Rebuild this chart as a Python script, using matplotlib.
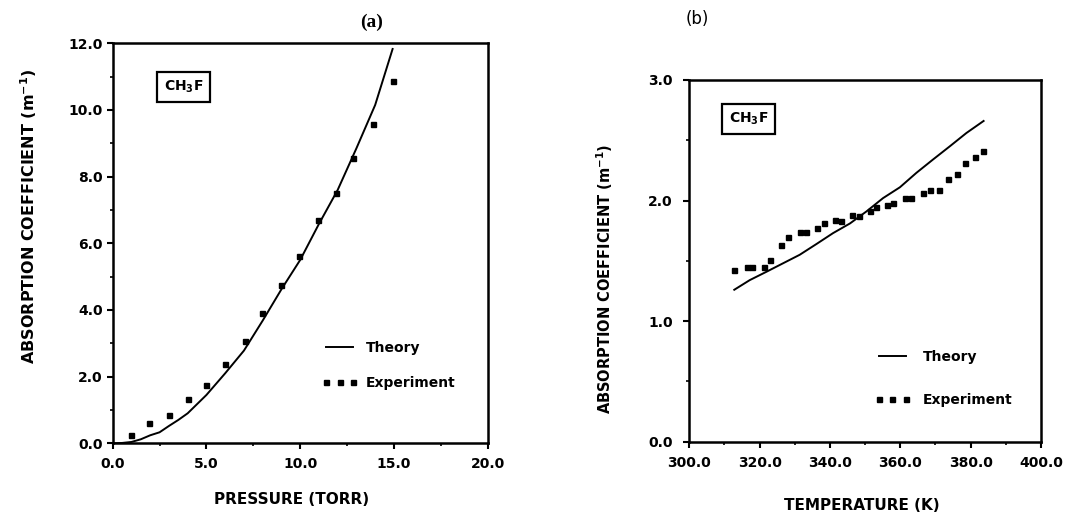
import numpy as np
import matplotlib
matplotlib.use("Agg")
import matplotlib.pyplot as plt
from matplotlib.ticker import MultipleLocator, FormatStrFormatter

# (a) absorption vs pressure
p_theory = [0.0, 0.5, 1.0, 1.5, 2.0, 2.5, 3.0, 3.5, 4.0, 5.0, 6.0, 7.0,
            8.0, 9.0, 10.0, 11.0, 12.0, 13.0, 14.0, 14.93]
a_theory = [0.0, 0.01, 0.04, 0.12, 0.24, 0.33, 0.52, 0.70, 0.90, 1.45, 2.10, 2.78,
            3.68, 4.62, 5.50, 6.58, 7.60, 8.85, 10.15, 11.83]
p_exp = [1.0, 1.95, 3.0, 4.0, 4.98, 6.0, 7.05, 7.96, 8.98, 9.92, 10.93, 11.91, 12.84, 13.87, 14.93]
a_exp = [0.24, 0.62, 0.85, 1.32, 1.76, 2.37, 3.08, 3.92, 4.76, 5.63, 6.69, 7.50, 8.56, 9.57, 10.87]

# (b) absorption vs temperature
t_theory = [312.8, 317.2, 322.0, 326.7, 331.4, 336.2, 340.9, 345.7, 350.4, 355.1,
            359.9, 364.6, 369.3, 374.1, 378.8, 383.7]
b_theory = [1.26, 1.34, 1.41, 1.48, 1.55, 1.64, 1.73, 1.81, 1.91, 2.02,
            2.11, 2.23, 2.34, 2.45, 2.56, 2.66]
t_exp = [312.8, 316.3, 317.9, 321.2, 322.9, 326.1, 328.0, 331.4, 333.2, 336.4,
         338.3, 341.4, 343.1, 346.4, 348.3, 351.3, 353.0, 356.1, 358.0, 361.3,
         363.0, 366.5, 368.4, 371.0, 373.6, 376.1, 378.5, 381.2, 383.5]
b_exp = [1.42, 1.45, 1.45, 1.45, 1.51, 1.63, 1.70, 1.74, 1.74, 1.77,
         1.81, 1.84, 1.83, 1.88, 1.87, 1.91, 1.95, 1.96, 1.98, 2.02,
         2.02, 2.06, 2.09, 2.09, 2.18, 2.22, 2.31, 2.36, 2.41]

FS = 10

def style_axes(ax, pad_x, pad_y):
    for s in ax.spines.values():
        s.set_linewidth(1.8)
    ax.tick_params(which="major", direction="out", length=4, width=1.5,
                   labelsize=FS, pad=pad_x, axis="x")
    ax.tick_params(which="major", direction="out", length=4, width=1.5,
                   labelsize=FS, pad=pad_y, axis="y")
    ax.tick_params(which="minor", direction="out", length=2.5, width=1.2)
    for lab in ax.get_xticklabels() + ax.get_yticklabels():
        lab.set_fontweight("bold")
    ax.xaxis.set_major_formatter(FormatStrFormatter("%.1f"))
    ax.yaxis.set_major_formatter(FormatStrFormatter("%.1f"))


fig = plt.figure(figsize=(10.65, 5.23), dpi=100)

# ---- panel (a)
ax1 = fig.add_axes([0.1058, 0.1524, 0.3521, 0.7648])
ax1.plot(p_theory, a_theory, color="black", lw=1.4, label="Theory")
ax1.plot(p_exp, a_exp, ls="none", marker="s", ms=3.6, color="black", label="Experiment")
ax1.set_xlim(0, 20)
ax1.set_ylim(0, 12)
ax1.xaxis.set_major_locator(MultipleLocator(5))
ax1.xaxis.set_minor_locator(MultipleLocator(2.5))
ax1.yaxis.set_major_locator(MultipleLocator(2))
ax1.yaxis.set_minor_locator(MultipleLocator(1))
style_axes(ax1, 6, 3)
ax1.legend(loc="center left", bbox_to_anchor=(0.557, 0.195), frameon=False,
           borderpad=0, borderaxespad=0, handlelength=2.6, handletextpad=0.6,
           labelspacing=1.5, numpoints=3, prop={"weight": "bold", "size": FS})
ax1.text(0.189, 0.891, r"$\mathbf{CH_3F}$", transform=ax1.transAxes,
         ha="center", va="center", fontsize=FS,
         bbox=dict(boxstyle="square,pad=0.5", fc="white", ec="black", lw=1.6))

# ---- panel (b)
ax2 = fig.add_axes([0.6472, 0.1555, 0.3302, 0.6916])
ax2.plot(t_theory, b_theory, color="black", lw=1.4, label="Theory")
ax2.plot(t_exp, b_exp, ls="none", marker="s", ms=3.6, color="black", label="Experiment")
ax2.set_xlim(300, 400)
ax2.set_ylim(0, 3)
ax2.xaxis.set_major_locator(MultipleLocator(20))
ax2.xaxis.set_minor_locator(MultipleLocator(10))
ax2.yaxis.set_major_locator(MultipleLocator(1))
ax2.yaxis.set_minor_locator(MultipleLocator(0.5))
style_axes(ax2, 6, 8)
ax2.legend(loc="center left", bbox_to_anchor=(0.527, 0.174), frameon=False,
           borderpad=0, borderaxespad=0, handlelength=2.55, handletextpad=0.9,
           labelspacing=2.1, numpoints=3, prop={"weight": "bold", "size": FS})
ax2.text(0.169, 0.892, r"$\mathbf{CH_3F}$", transform=ax2.transAxes,
         ha="center", va="center", fontsize=FS,
         bbox=dict(boxstyle="square,pad=0.5", fc="white", ec="black", lw=1.6))

# labels and panel tags
fig.text(29 / 1065, 1 - 216 / 523, r"ABSORPTION COEFFICIENT (m$^{\mathbf{-1}}$)",
         rotation=90, ha="center", va="center", fontsize=11.5, fontweight="bold")
fig.text(292 / 1065, 1 - 500 / 523, "PRESSURE (TORR)", ha="center", va="center",
         fontsize=11, fontweight="bold")
fig.text(605 / 1065, 1 - 279 / 523, r"ABSORPTION COEFFICIENT (m$^{\mathbf{-1}}$)",
         rotation=90, ha="center", va="center", fontsize=10.5, fontweight="bold")
fig.text(862 / 1065, 1 - 506 / 523, "TEMPERATURE (K)", ha="center", va="center",
         fontsize=11, fontweight="bold")
fig.text(372 / 1065, 1 - 22 / 523, "(a)", ha="center", va="center", fontsize=14,
         family=["Liberation Serif", "DejaVu Serif"], fontweight="bold")
fig.text(697 / 1065, 1 - 19 / 523, "(b)", ha="center", va="center", fontsize=12)

fig.savefig("out.png", dpi=100)
